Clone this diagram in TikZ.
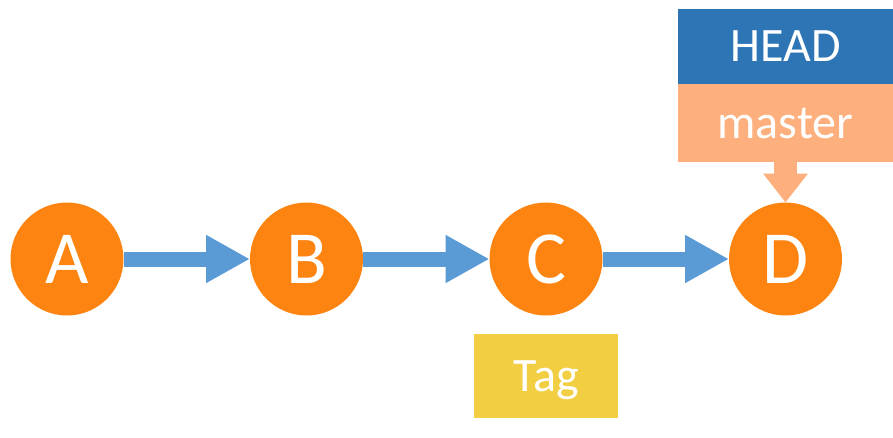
\documentclass[tikz,border=0pt]{standalone}
\usepackage{fontspec}
\setmainfont{Carlito}
\usetikzlibrary{arrows.meta}
\definecolor{commitorange}{HTML}{FD8410}
\definecolor{arrowblue}{HTML}{5B9BD5}
\definecolor{headblue}{HTML}{2E75B6}
\definecolor{masterpeach}{HTML}{FDB07E}
\definecolor{taggold}{HTML}{F1CE42}
\tikzset{
  commit/.style={circle, fill=commitorange, minimum size=113pt, inner sep=0pt, outer sep=0pt,
    text=white, font=\fontsize{75}{75}\selectfont},
  refbox/.style={rectangle, inner sep=0pt, outer sep=0pt, text=white, text depth=0pt,
    font=\fontsize{48}{48}\selectfont},
  link/.style={arrowblue, line width=15pt, -{Triangle[length=44pt,width=45pt]}},
  pointer/.style={masterpeach, line width=23pt, -{Triangle[length=29pt,width=43pt]}}
}
\begin{document}
\begin{tikzpicture}[x=1pt,y=-1pt]
\useasboundingbox (0,0) rectangle (893,437);
\node[commit] (A) at (67,259) {A};
\node[commit] (B) at (306.5,259) {B};
\node[commit] (C) at (546,259) {C};
\node[commit] (D) at (785.5,259) {D};
\node[refbox, fill=headblue, minimum width=215pt, minimum height=75pt] (head) at (785.5,46.5) {HEAD};
\node[refbox, fill=masterpeach, minimum width=215pt, minimum height=78pt] (master) at (785.5,123) {master};
\node[refbox, fill=taggold, minimum width=144pt, minimum height=84pt] (tag) at (546,376) {Tag};
\draw[link] (A) -- (B);
\draw[link] (B) -- (C);
\draw[link] (C) -- (D);
\draw[pointer] (master) -- (D);
\end{tikzpicture}
\end{document}
